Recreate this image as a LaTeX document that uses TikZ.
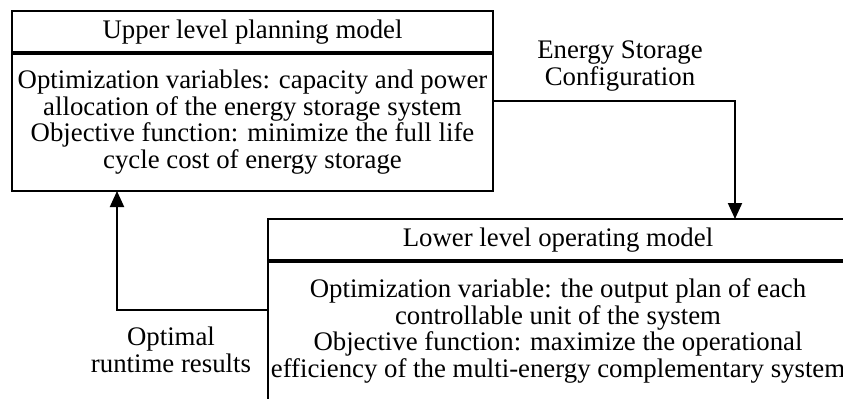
\documentclass[tikz,border=0pt]{standalone}
\usepackage{fontspec}
\setmainfont{Liberation Serif}
\usetikzlibrary{positioning,fit,arrows.meta}
\tikzstyle{headbox} = [rectangle, minimum height=21pt, inner sep=0pt, outer sep=0pt,
font=\fontsize{13.4}{13.4}\selectfont]
\tikzstyle{bodybox} = [rectangle, minimum height=69pt, inner sep=0pt, outer sep=0pt,
align=center, font=\fontsize{13.4}{13.4}\selectfont]
\tikzstyle{modelbox} = [draw=black, line width=1pt, inner sep=0pt, outer sep=0pt]
\tikzstyle{divider} = [draw=black, line width=2pt]
\tikzstyle{flow} = [line width=1pt, -{Triangle[length=8pt,width=7pt]}]
\tikzstyle{lbl} = [align=center, font=\fontsize{13.4}{13.6}\selectfont]

\begin{document}
\begin{tikzpicture}
        \path[use as bounding box, clip] (0,0) rectangle (421.5pt,199pt);
        \node [headbox, minimum width=240.5pt] (upHead) at (126.25pt,183pt) {Upper level planning model};
        \node [bodybox, minimum width=240.5pt, below=0pt of upHead] (upBody) {%
            Optimization variables: capacity and power\\
            allocation of the energy storage system\\
            Objective function: minimize the full life\\
            cycle cost of energy storage};
        \node [modelbox, fit=(upHead)(upBody)] (upper) {};
        \path [divider] (upHead.south west) -- (upHead.south east);
        \node [headbox, minimum width=290pt] (lowHead) at (279pt,79pt) {Lower level operating model};
        \node [bodybox, minimum width=290pt, minimum height=70pt, below=0pt of lowHead] (lowBody) {%
            Optimization variable: the output plan of each\\
            controllable unit of the system\\
            Objective function: maximize the operational\\
            efficiency of the multi-energy complementary system};
        \node [modelbox, fit=(lowHead)(lowBody)] (lower) {};
        \path [divider] (lowHead.south west) -- (lowHead.south east);
        \draw [flow] (upper.east) -| node [lbl, pos=0.25, above=1pt, xshift=3pt] {Energy Storage\\Configuration}
            ([xshift=88.5pt]lower.north);
        \draw [flow] (lower.west) -| node [lbl, pos=0.25, below=4.5pt, xshift=-10.75pt] {Optimal\\runtime results}
            ([xshift=-67.75pt]upper.south);
    \end{tikzpicture}
\end{document}
